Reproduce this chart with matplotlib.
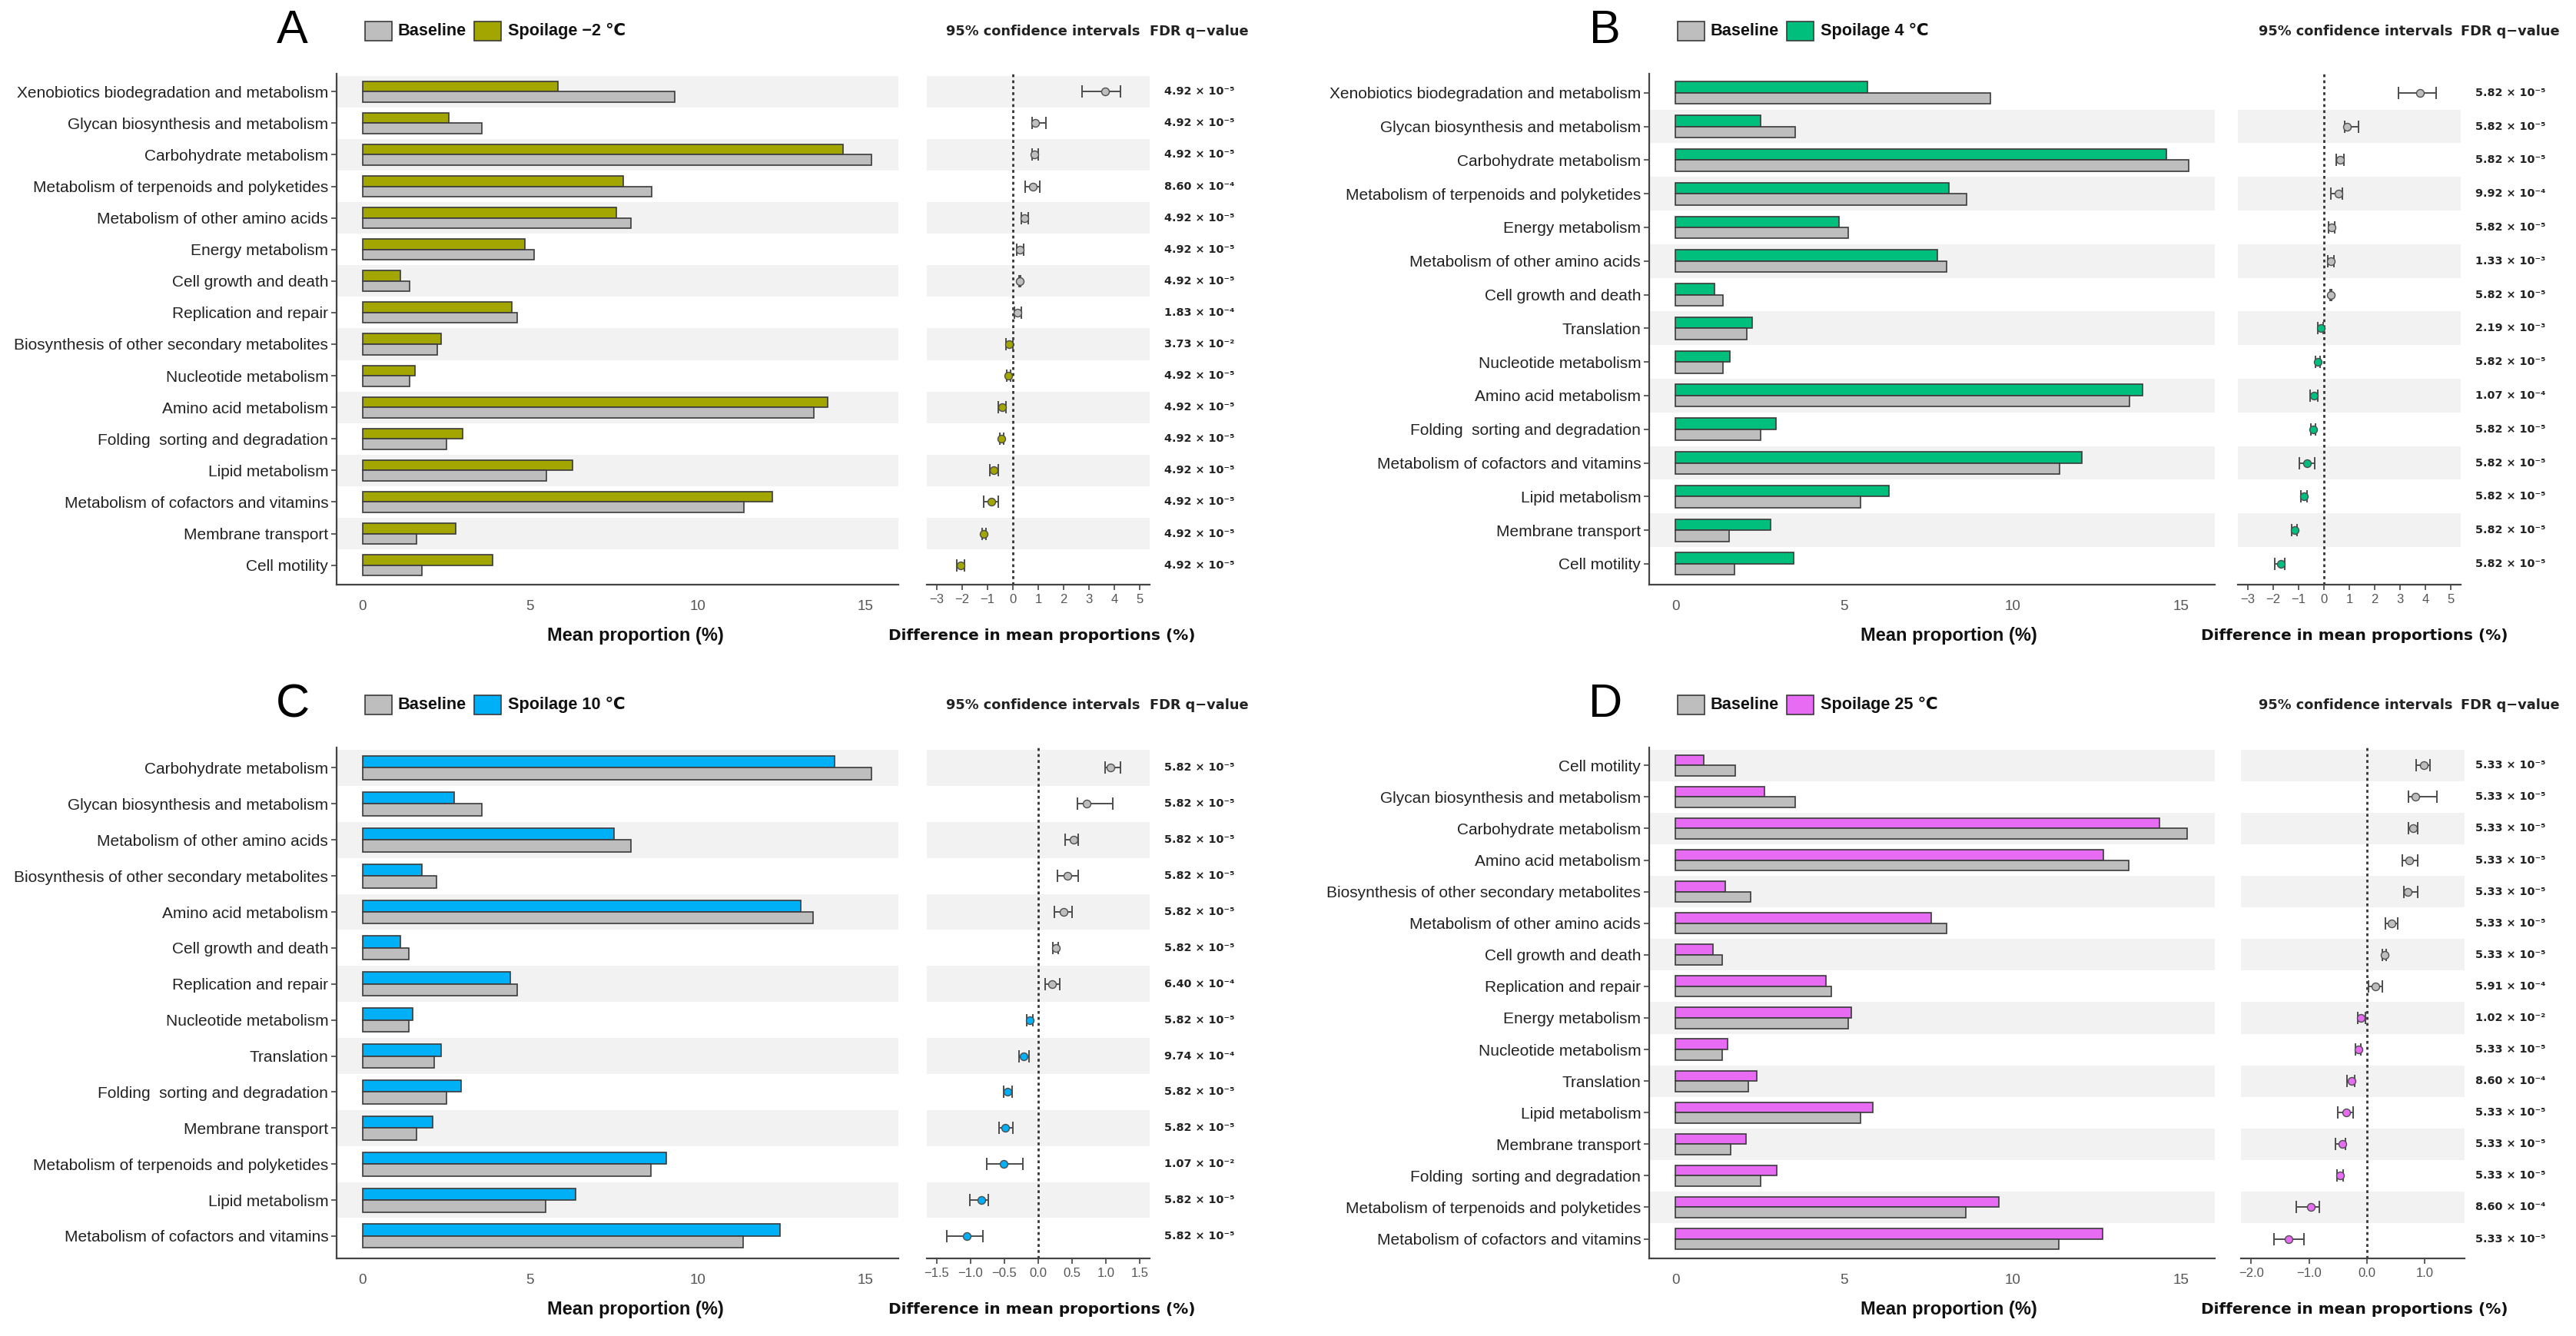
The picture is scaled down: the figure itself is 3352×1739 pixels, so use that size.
import numpy as np
import matplotlib
matplotlib.use("Agg")
import matplotlib.pyplot as plt
from matplotlib.patches import Rectangle
from matplotlib.transforms import blended_transform_factory

# ---------------- data ----------------
cats_A = ["Xenobiotics biodegradation and metabolism", "Glycan biosynthesis and metabolism",
          "Carbohydrate metabolism", "Metabolism of terpenoids and polyketides",
          "Metabolism of other amino acids", "Energy metabolism", "Cell growth and death",
          "Replication and repair", "Biosynthesis of other secondary metabolites",
          "Nucleotide metabolism", "Amino acid metabolism", "Folding  sorting and degradation",
          "Lipid metabolism", "Metabolism of cofactors and vitamins", "Membrane transport",
          "Cell motility"]
spoil_A = [5.84, 2.58, 14.33, 7.79, 7.58, 4.84, 1.13, 4.45, 2.34, 1.56, 13.89, 2.99, 6.26, 12.24, 2.78, 3.87]
base_A = [9.32, 3.57, 15.19, 8.62, 8.02, 5.13, 1.41, 4.62, 2.22, 1.41, 13.47, 2.51, 5.49, 11.38, 1.62, 1.76]
diff_A = [3.63, 0.88, 0.86, 0.78, 0.45, 0.28, 0.27, 0.18, -0.16, -0.18, -0.43, -0.45, -0.76, -0.86, -1.14, -2.07]
lo_A = [2.72, 0.76, 0.75, 0.49, 0.33, 0.15, 0.24, 0.05, -0.28, -0.25, -0.57, -0.53, -0.90, -1.14, -1.22, -2.22]
hi_A = [4.23, 1.29, 1.00, 1.06, 0.60, 0.43, 0.30, 0.33, 0.00, -0.10, -0.27, -0.36, -0.58, -0.57, -1.06, -1.92]
fdr_A = [4.92e-5, 4.92e-5, 4.92e-5, 8.60e-4, 4.92e-5, 4.92e-5, 4.92e-5, 1.83e-4, 3.73e-2,
         4.92e-5, 4.92e-5, 4.92e-5, 4.92e-5, 4.92e-5, 4.92e-5, 4.92e-5]

cats_B = ["Xenobiotics biodegradation and metabolism", "Glycan biosynthesis and metabolism",
          "Carbohydrate metabolism", "Metabolism of terpenoids and polyketides", "Energy metabolism",
          "Metabolism of other amino acids", "Cell growth and death", "Translation",
          "Nucleotide metabolism", "Amino acid metabolism", "Folding  sorting and degradation",
          "Metabolism of cofactors and vitamins", "Lipid metabolism", "Membrane transport",
          "Cell motility"]
spoil_B = [5.71, 2.52, 14.58, 8.11, 4.85, 7.77, 1.15, 2.27, 1.62, 13.86, 2.98, 12.06, 6.33, 2.82, 3.51]
base_B = [9.34, 3.56, 15.23, 8.64, 5.13, 8.04, 1.41, 2.13, 1.41, 13.47, 2.52, 11.39, 5.50, 1.60, 1.76]
diff_B = [3.79, 0.90, 0.63, 0.59, 0.29, 0.26, 0.27, -0.12, -0.24, -0.39, -0.43, -0.67, -0.80, -1.16, -1.70]
lo_B = [2.93, 0.81, 0.49, 0.27, 0.17, 0.14, 0.23, -0.24, -0.33, -0.54, -0.52, -0.96, -0.92, -1.26, -1.95]
hi_B = [4.43, 1.35, 0.79, 0.73, 0.42, 0.41, 0.31, -0.02, -0.14, -0.24, -0.33, -0.37, -0.67, -1.06, -1.53]
fdr_B = [5.82e-5, 5.82e-5, 5.82e-5, 9.92e-4, 5.82e-5, 1.33e-3, 5.82e-5, 2.19e-3, 5.82e-5,
         1.07e-4, 5.82e-5, 5.82e-5, 5.82e-5, 5.82e-5, 5.82e-5]

cats_C = ["Carbohydrate metabolism", "Glycan biosynthesis and metabolism",
          "Metabolism of other amino acids", "Biosynthesis of other secondary metabolites",
          "Amino acid metabolism", "Cell growth and death", "Replication and repair",
          "Nucleotide metabolism", "Translation", "Folding  sorting and degradation",
          "Membrane transport", "Metabolism of terpenoids and polyketides", "Lipid metabolism",
          "Metabolism of cofactors and vitamins"]
spoil_C = [14.08, 2.73, 7.51, 1.78, 13.07, 1.13, 4.41, 1.49, 2.34, 2.95, 2.09, 9.07, 6.35, 12.45]
base_C = [15.19, 3.55, 8.00, 2.20, 13.45, 1.39, 4.62, 1.39, 2.13, 2.50, 1.62, 8.60, 5.47, 11.36]
diff_C = [1.07, 0.72, 0.52, 0.43, 0.37, 0.26, 0.20, -0.12, -0.22, -0.45, -0.49, -0.51, -0.84, -1.06]
lo_C = [0.99, 0.58, 0.40, 0.28, 0.24, 0.22, 0.10, -0.17, -0.28, -0.51, -0.58, -0.76, -1.01, -1.35]
hi_C = [1.21, 1.10, 0.59, 0.59, 0.50, 0.30, 0.32, -0.08, -0.14, -0.39, -0.37, -0.23, -0.74, -0.82]
fdr_C = [5.82e-5, 5.82e-5, 5.82e-5, 5.82e-5, 5.82e-5, 5.82e-5, 6.40e-4, 5.82e-5, 9.74e-4,
         5.82e-5, 5.82e-5, 1.07e-2, 5.82e-5, 5.82e-5]

cats_D = ["Cell motility", "Glycan biosynthesis and metabolism", "Carbohydrate metabolism",
          "Amino acid metabolism", "Biosynthesis of other secondary metabolites",
          "Metabolism of other amino acids", "Cell growth and death", "Replication and repair",
          "Energy metabolism", "Nucleotide metabolism", "Translation", "Lipid metabolism",
          "Membrane transport", "Folding  sorting and degradation",
          "Metabolism of terpenoids and polyketides", "Metabolism of cofactors and vitamins"]
spoil_D = [0.84, 2.65, 14.37, 12.70, 1.47, 7.60, 1.12, 4.47, 5.21, 1.56, 2.42, 5.86, 2.09, 3.00, 9.61, 12.68]
base_D = [1.77, 3.56, 15.18, 13.46, 2.23, 8.04, 1.40, 4.63, 5.12, 1.40, 2.16, 5.49, 1.63, 2.54, 8.61, 11.37]
diff_D = [0.98, 0.84, 0.80, 0.73, 0.70, 0.43, 0.30, 0.15, -0.11, -0.15, -0.27, -0.36, -0.43, -0.47, -0.97, -1.35]
lo_D = [0.85, 0.72, 0.72, 0.61, 0.64, 0.32, 0.27, 0.02, -0.16, -0.20, -0.34, -0.50, -0.55, -0.52, -1.22, -1.61]
hi_D = [1.09, 1.21, 0.87, 0.87, 0.87, 0.53, 0.33, 0.26, -0.03, -0.11, -0.21, -0.24, -0.37, -0.41, -0.83, -1.09]
fdr_D = [5.33e-5, 5.33e-5, 5.33e-5, 5.33e-5, 5.33e-5, 5.33e-5, 5.33e-5, 5.91e-4, 1.02e-2,
         5.33e-5, 8.60e-4, 5.33e-5, 5.33e-5, 5.33e-5, 8.60e-4, 5.33e-5]

spoil_labels = ["Spoilage \u22122 \u2103", "Spoilage 4 \u2103", "Spoilage 10 \u2103", "Spoilage 25 \u2103"]
bar_ticks = [0, 5, 10, 15]
ci_ticks_AB = [-3, -2, -1, 0, 1, 2, 3, 4, 5]
ci_ticklabels_AB = ["\u22123", "\u22122", "\u22121", "0", "1", "2", "3", "4", "5"]
ci_ticks_C = [-1.5, -1.0, -0.5, 0.0, 0.5, 1.0, 1.5]
ci_ticklabels_C = ["\u22121.5", "\u22121.0", "\u22120.5", "0.0", "0.5", "1.0", "1.5"]
ci_ticks_D = [-2.0, -1.0, 0.0, 1.0]
ci_ticklabels_D = ["\u22122.0", "\u22121.0", "0.0", "1.0"]

# ---------------- style ----------------
W, H, DPI = 3352, 1739, 200
GRAY = "#bebebe"
EDGE = "#3a3a3a"
BAND = "#f2f2f2"
SANS = ["Liberation Sans", "DejaVu Sans"]
WIDE = ["DejaVu Sans"]

fig = plt.figure(figsize=(W / DPI, H / DPI), dpi=DPI)
fig.patch.set_facecolor("white")

DW, DH = 1568.0, 813.0  # layout reference units


def fx(x):
    return x / DW


def fy(y):
    return 1 - y / DH


def add_ax(x0, y0, x1, y1):
    return fig.add_axes([fx(x0), fy(y1), fx(x1) - fx(x0), fy(y0) - fy(y1)])


def sup(s):
    return s.translate(str.maketrans("-0123456789", "\u207b\u2070\u00b9\u00b2\u00b3\u2074\u2075\u2076\u2077\u2078\u2079"))


def fmt_fdr(v):
    m, e = f"{v:.2e}".split("e")
    return f"{m} \u00d7 10{sup(str(int(e)))}"


def draw_panel(letter, cats, spoil, base, diff, lo, hi, fdr, color, spoil_label,
               ox, oy, bar_w, ci_x0, ci_xlim, ci_ticks, ci_ticklabels, fdr_cx, hdr_cx):
    top, bot = oy + 45, oy + 356
    n = len(cats)
    y = np.arange(n)
    ylim = (n - 1 + 0.63, -0.56)

    # ---- bar panel ----
    ax = add_ax(ox, top, ox + bar_w, bot)
    for i in range(n):
        if (n - 1 - i) % 2 == 1:
            ax.axhspan(i - 0.5, i + 0.5, color=BAND, lw=0, zorder=0)
    h = 0.33
    ax.barh(y - h / 2, spoil, height=h, color=color, edgecolor=EDGE, lw=0.6, zorder=2)
    ax.barh(y + h / 2, base, height=h, color=GRAY, edgecolor=EDGE, lw=0.6, zorder=2)
    ax.set_ylim(*ylim)
    ax.set_xlim(-0.77, 16.0)
    ax.set_yticks(y)
    ax.set_yticklabels(cats, fontsize=7.5, family=SANS, color="#222222")
    ax.set_xticks(bar_ticks)
    ax.set_xticklabels([str(t) for t in bar_ticks], fontsize=6.8, family=SANS, color="#555555")
    for s in ["top", "right"]:
        ax.spines[s].set_visible(False)
    for s in ["left", "bottom"]:
        ax.spines[s].set_color("#444444")
        ax.spines[s].set_linewidth(0.8)
    ax.tick_params(axis="y", length=2.5, width=0.6, pad=1.5, color="#444444")
    ax.tick_params(axis="x", length=0, pad=7)
    ax.set_facecolor("white")

    # ---- CI panel ----
    cx = add_ax(ci_x0, top, ci_x0 + 136, bot)
    for i in range(n):
        if (n - 1 - i) % 2 == 1:
            cx.axhspan(i - 0.5, i + 0.5, color=BAND, lw=0, zorder=0)
    cx.axvline(0, color="#333333", ls=(0, (1.3, 1.5)), lw=1.0, zorder=1)
    for i in range(n):
        face = GRAY if diff[i] > 0 else color
        cx.errorbar(diff[i], i, xerr=[[diff[i] - lo[i]], [hi[i] - diff[i]]], fmt="none",
                    ecolor="#4d4d4d", elinewidth=0.7, capsize=3.0, capthick=0.7, zorder=3)
        cx.plot(diff[i], i, "o", ms=3.6, mfc=face, mec="#4d4d4d", mew=0.5, zorder=4)
    cx.set_ylim(*ylim)
    cx.set_xlim(*ci_xlim)
    cx.set_yticks([])
    cx.set_xticks(ci_ticks)
    cx.set_xticklabels(ci_ticklabels, fontsize=6.0, family=SANS, color="#555555")
    for s in ["top", "right", "left"]:
        cx.spines[s].set_visible(False)
    cx.spines["bottom"].set_color("#444444")
    cx.spines["bottom"].set_linewidth(0.8)
    cx.tick_params(axis="x", length=2.5, width=0.6, pad=1.8, color="#444444")

    # FDR values
    tr = blended_transform_factory(fig.transFigure, cx.transData)
    for i in range(n):
        cx.text(fx(fdr_cx), i, fmt_fdr(fdr[i]), transform=tr, ha="center", va="center",
                fontsize=5.2, fontweight="bold", family=WIDE, color="#222222", clip_on=False)

    # headers
    fig.text(fx(hdr_cx), fy(oy + 19), "95% confidence intervals", ha="center", va="center",
             fontsize=6.4, fontweight="bold", family=WIDE, color="#222222")
    fig.text(fx(fdr_cx), fy(oy + 19), "FDR q\u2212value", ha="center", va="center",
             fontsize=6.4, fontweight="bold", family=WIDE, color="#222222")

    # axis titles
    fig.text(fx(ox + 182), fy(oy + 387), "Mean proportion (%)", ha="center", va="center",
             fontsize=8.5, fontweight="bold", family=SANS, color="#111111")
    fig.text(fx(hdr_cx - 1), fy(oy + 387), "Difference in mean proportions (%)", ha="center",
             va="center", fontsize=7.2, fontweight="bold", family=WIDE, color="#111111")

    # panel letter
    lx = ox - 27
    fig.text(fx(lx), fy(oy + 19), letter, ha="center", va="center", fontsize=22,
             family=SANS, color="black")

    # legend
    bh = 11.5
    for bx, fc in [(lx + 44, GRAY), (lx + 110.5, color)]:
        fig.add_artist(Rectangle((fx(bx), fy(oy + 19 + bh / 2)), fx(16.5), bh / DH,
                                 transform=fig.transFigure, facecolor=fc, edgecolor=EDGE, lw=0.6))
    fig.text(fx(lx + 64), fy(oy + 19), "Baseline", ha="left", va="center", fontsize=7.8,
             fontweight="bold", family=SANS, color="#111111")
    fig.text(fx(lx + 131), fy(oy + 19), spoil_label, ha="left", va="center", fontsize=7.8,
             fontweight="bold", family=SANS, color="#111111")


draw_panel("A", cats_A, spoil_A, base_A, diff_A, lo_A, hi_A, fdr_A, "#A3A500", spoil_labels[0],
           205, 0, 342, 564, (-3.4, 5.4), ci_ticks_AB, ci_ticklabels_AB, 730, 635)
draw_panel("B", cats_B, spoil_B, base_B, diff_B, lo_B, hi_B, fdr_B, "#00BF7D", spoil_labels[1],
           1004, 0, 344, 1362, (-3.4, 5.4), ci_ticks_AB, ci_ticklabels_AB, 1528, 1434)
draw_panel("C", cats_C, spoil_C, base_C, diff_C, lo_C, hi_C, fdr_C, "#00B0F6", spoil_labels[2],
           205, 410, 342, 564, (-1.65, 1.65), ci_ticks_C, ci_ticklabels_C, 730, 635)
draw_panel("D", cats_D, spoil_D, base_D, diff_D, lo_D, hi_D, fdr_D, "#E76BF3", spoil_labels[3],
           1004, 410, 344, 1364, (-2.18, 1.68), ci_ticks_D, ci_ticklabels_D, 1528, 1434)

fig.savefig("out.png", dpi=DPI, facecolor="white")
